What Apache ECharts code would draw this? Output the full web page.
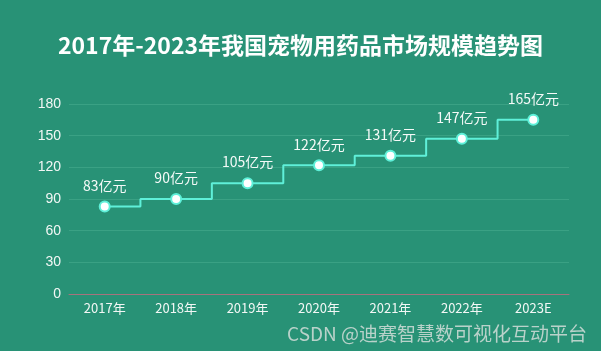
<!DOCTYPE html>
<html>
<head>
<meta charset="utf-8">
<script src="https://cdn.jsdelivr.net/npm/echarts@6/dist/echarts.min.js"></script>
<style>
html,body{margin:0;padding:0;background:#289276;}
#main{width:601px;height:351px;}
</style>
</head>
<body>
<div id="main"></div>
<script>
var years = ['2017年', '2018年', '2019年', '2020年', '2021年', '2022年', '2023E'];
var sizes = [83, 90, 105, 122, 131, 147, 165];
var yTicks = [0, 30, 60, 90, 120, 150, 180];

var chart = echarts.init(document.getElementById('main'));
var option = {
  backgroundColor: '#289276',
  title: {
    text: '2017年-2023年我国宠物用药品市场规模趋势图',
    left: 'center',
    top: 29,
    textStyle: {
      color: '#fff',
      fontSize: 23,
      fontWeight: 'bold',
      fontFamily: 'Noto Sans CJK SC'
    }
  },
  grid: { left: 69, right: 32, top: 104, bottom: 57 },
  xAxis: {
    type: 'category',
    data: years,
    axisLine: { lineStyle: { color: '#a7727d' } },
    axisTick: { lineStyle: { color: '#a7727d' } },
    axisLabel: { color: '#f2f7f5', fontSize: 13, margin: 8, fontFamily: 'Noto Sans CJK SC' }
  },
  yAxis: {
    type: 'value',
    min: yTicks[0],
    max: yTicks[yTicks.length - 1],
    interval: 30,
    axisLine: { show: false },
    axisTick: { show: false },
    axisLabel: { color: '#f2f7f5', fontSize: 14, margin: 8 },
    splitLine: { lineStyle: { color: '#3aa184' } }
  },
  series: [{
    type: 'line',
    step: 'middle',
    data: sizes,
    symbol: 'circle',
    symbolSize: 10,
    lineStyle: { color: '#5ff0d9', width: 2 },
    itemStyle: { color: '#fff', borderColor: '#5ff0d9', borderWidth: 2 },
    label: {
      show: true,
      position: 'top',
      distance: 8,
      formatter: '{c}亿元',
      color: '#f5faf8',
      fontSize: 14,
      fontFamily: 'Noto Sans CJK SC'
    }
  }],
  graphic: [{
    type: 'text',
    right: 14,
    bottom: 8,
    style: {
      text: 'CSDN @迪赛智慧数可视化互动平台',
      fill: '#b9d2ca',
      fontSize: 19,
      fontFamily: 'Noto Sans CJK SC',
      textShadowColor: 'rgba(0,0,0,0.5)',
      textShadowOffsetX: 1,
      textShadowOffsetY: 1
    }
  }]
};
chart.setOption(option);
</script>
</body>
</html>
